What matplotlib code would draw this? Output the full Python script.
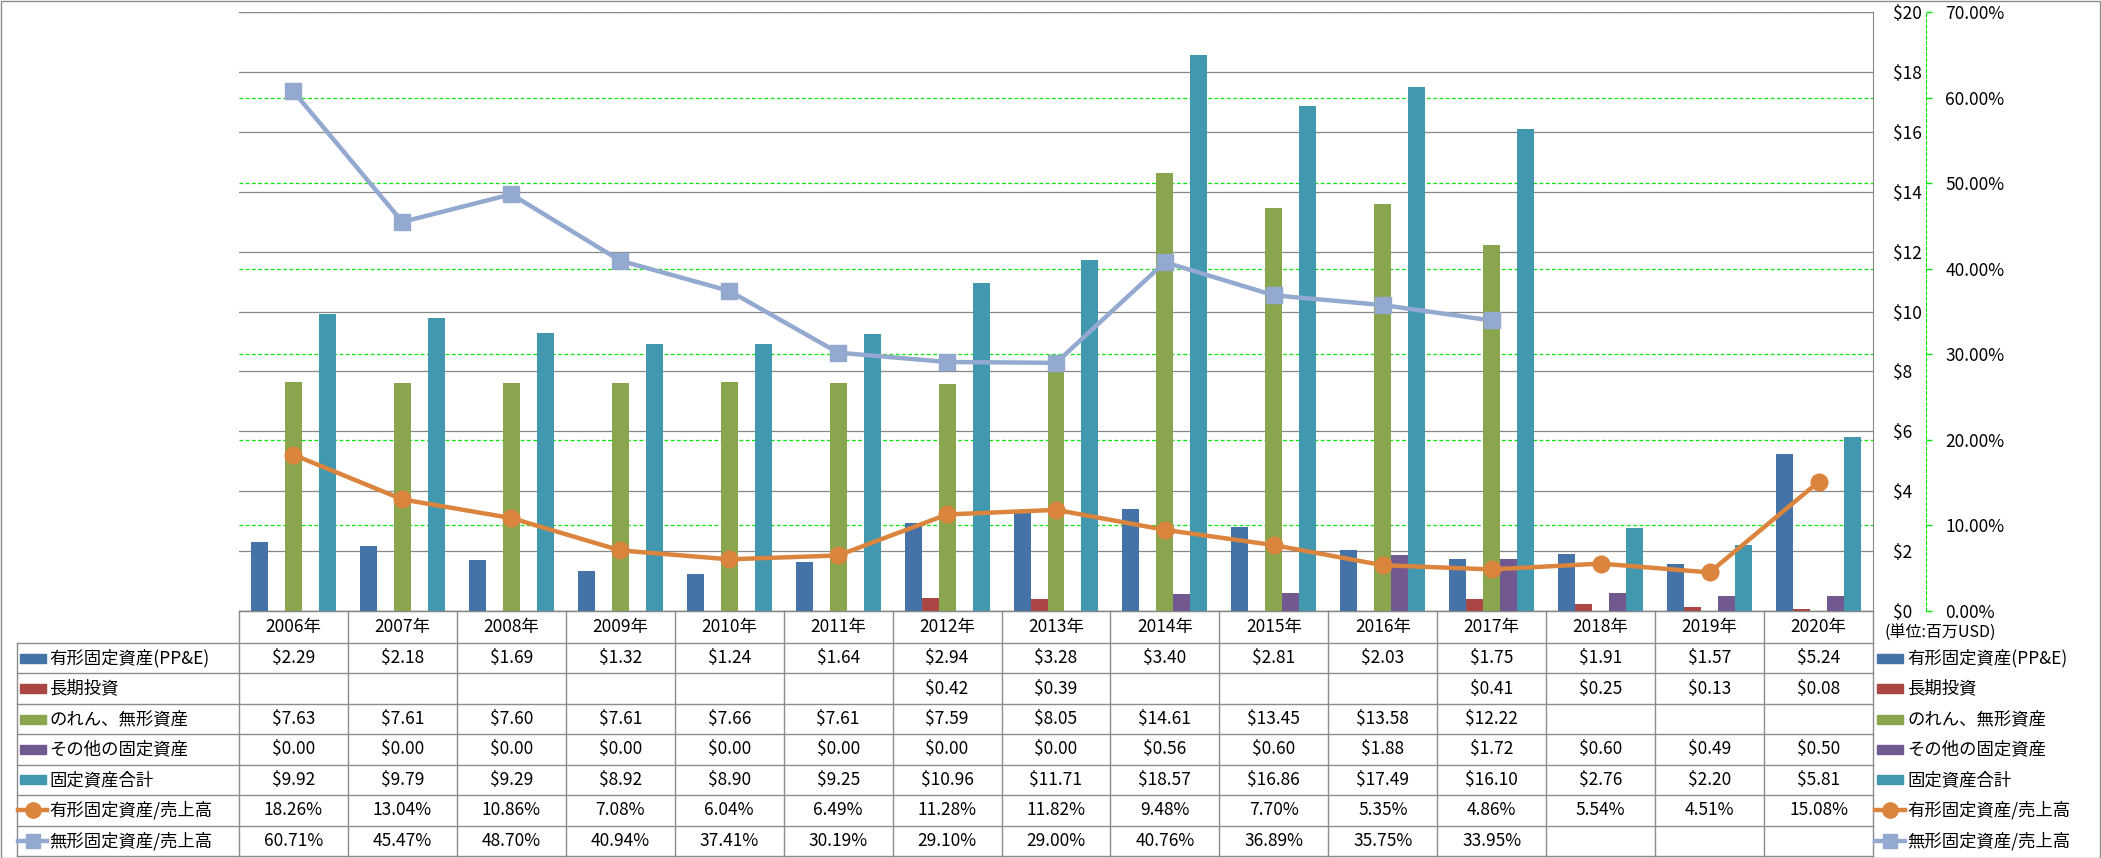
import numpy as np
import matplotlib
matplotlib.use("Agg")
import matplotlib.pyplot as plt
from matplotlib.lines import Line2D
from matplotlib.patches import Rectangle
from matplotlib.transforms import blended_transform_factory

plt.rcParams['font.family'] = ['Noto Sans CJK JP', 'DejaVu Sans']

nan = np.nan
years = ["2006年", "2007年", "2008年", "2009年", "2010年", "2011年", "2012年", "2013年",
         "2014年", "2015年", "2016年", "2017年", "2018年", "2019年", "2020年"]
ppe = [2.29, 2.18, 1.69, 1.32, 1.24, 1.64, 2.94, 3.28, 3.40, 2.81, 2.03, 1.75, 1.91, 1.57, 5.24]
lt_invest = [nan, nan, nan, nan, nan, nan, 0.42, 0.39, nan, nan, nan, 0.41, 0.25, 0.13, 0.08]
goodwill = [7.63, 7.61, 7.60, 7.61, 7.66, 7.61, 7.59, 8.05, 14.61, 13.45, 13.58, 12.22, nan, nan, nan]
other = [0.00, 0.00, 0.00, 0.00, 0.00, 0.00, 0.00, 0.00, 0.56, 0.60, 1.88, 1.72, 0.60, 0.49, 0.50]
total = [9.92, 9.79, 9.29, 8.92, 8.90, 9.25, 10.96, 11.71, 18.57, 16.86, 17.49, 16.10, 2.76, 2.20, 5.81]
ppe_ratio = [18.26, 13.04, 10.86, 7.08, 6.04, 6.49, 11.28, 11.82, 9.48, 7.70, 5.35, 4.86, 5.54, 4.51, 15.08]
intang_ratio = [60.71, 45.47, 48.70, 40.94, 37.41, 30.19, 29.10, 29.00, 40.76, 36.89, 35.75, 33.95, nan, nan, nan]

bar_names = ["有形固定資産(PP&E)", "長期投資", "のれん、無形資産", "その他の固定資産", "固定資産合計"]
line_names = ["有形固定資産/売上高", "無形固定資産/売上高"]
bar_colors = ["#4572A7", "#AA4643", "#89A54E", "#71588F", "#4198AF"]
line_colors = ["#DB843D", "#93A9CF"]
line_markers = ["o", "s"]
unit_label = "(単位:百万USD)"

W, H = 2101, 858
fig = plt.figure(figsize=(W / 100, H / 100), dpi=100)
fig.patch.set_facecolor("white")

L, R, T, B = 239, 1873, 12, 611
rect = [L / W, 1 - B / H, (R - L) / W, (B - T) / H]

ax2 = fig.add_axes(rect)  # percent axis + green grid (bottom layer)
ax = fig.add_axes(rect, sharex=ax2)  # bars, $ axis
ax3 = fig.add_axes(rect, sharex=ax2)  # lines (top layer)
ax2.set_zorder(1)
ax.set_zorder(2)
ax3.set_zorder(3)
ax.patch.set_visible(False)
ax3.patch.set_visible(False)

GREY = "#878787"
GREEN = "#00E600"
x = np.arange(len(years))
ax.set_xlim(-0.5, len(years) - 0.5)

# bars
series = [ppe, lt_invest, goodwill, other, total]
w = 0.156
for k, (vals, c) in enumerate(zip(series, bar_colors)):
    ax.bar(x + (k - 2) * w, np.array(vals, dtype=float), width=w, color=c, zorder=2)

ax.set_ylim(0, 20)
ax.set_yticks(np.arange(0, 21, 2))
ax.yaxis.tick_right()
ax.set_yticklabels([f"${v}" for v in range(0, 21, 2)])
ax.tick_params(axis='y', length=0, pad=14.4, labelsize=12.5)
ax.set_xticks([])
ax.set_axisbelow(True)
ax.grid(axis='y', color=GREY, lw=0.9, ls='-')
for s in ["left", "top"]:
    ax.spines[s].set_visible(False)
ax.spines["right"].set_color(GREY)
ax.spines["bottom"].set_color(GREY)

# percent axis
ax2.set_ylim(0, 0.7)
ax2.set_yticks(np.arange(0, 0.71, 0.1))
ax2.yaxis.tick_right()
ax2.set_yticklabels([f"{v:.2f}%" for v in np.arange(0, 71, 10)])
ax2.tick_params(axis='y', length=4, width=1, color=GREEN, direction='out', pad=10, labelsize=12.5)
ax2.grid(axis='y', color=GREEN, lw=0.9, ls=(0, (3, 2)))
for s in ["left", "top", "bottom"]:
    ax2.spines[s].set_visible(False)
ax2.spines["right"].set_position(("outward", 38))
ax2.spines["right"].set_color(GREEN)
ax2.spines["right"].set_linestyle((0, (3, 2)))
ax2.tick_params(axis='x', length=0, labelbottom=False)

# lines
ax3.set_ylim(0, 0.7)
ax3.axis('off')
for vals, c, m in zip([ppe_ratio, intang_ratio], line_colors, line_markers):
    ax3.plot(x, np.array(vals, dtype=float) / 100, color=c, lw=3.2, marker=m,
             markersize=12 if m == 'o' else 11, markerfacecolor=c, markeredgecolor=c,
             solid_capstyle='round', clip_on=False)

# ---------------- table ----------------
def fy(py):
    return 1 - py / H

def fx(px):
    return px / W

trans_col = blended_transform_factory(ax.transData, fig.transFigure)
row_top = 643
row_h = (856 - 643) / 7
rows_y = [row_top + i * row_h for i in range(8)]
hdr_c = (B + row_top) / 2
tcol = "#8C8C8C"

# horizontal lines
fig.add_artist(Line2D([fx(L), fx(R)], [fy(B), fy(B)], color=tcol, lw=1))
for yy in rows_y:
    fig.add_artist(Line2D([fx(17), fx(R)], [fy(yy), fy(yy)], color=tcol, lw=1))
# vertical lines
fig.add_artist(Line2D([fx(17), fx(17)], [fy(row_top), fy(rows_y[-1])], color=tcol, lw=1))
for i in range(len(years) + 1):
    fig.add_artist(Line2D([i - 0.5, i - 0.5], [fy(B), fy(rows_y[-1])], color=tcol, lw=1,
                          transform=trans_col))

# header
for i, yl in enumerate(years):
    fig.text(i, fy(hdr_c), yl, transform=trans_col, ha='center', va='center', fontsize=12.5)

all_rows = series + [ppe_ratio, intang_ratio]
all_names = bar_names + line_names
for r, vals in enumerate(all_rows):
    yc = (rows_y[r] + rows_y[r + 1]) / 2
    for i, v in enumerate(vals):
        if v is None or (isinstance(v, float) and np.isnan(v)):
            continue
        s = f"${v:.2f}" if r < 5 else f"{v:.2f}%"
        fig.text(i, fy(yc), s, transform=trans_col, ha='center', va='center', fontsize=12.5)

# legend keys (left in table and right of table)
def draw_key(x0, x1, yc, r):
    if r < 5:
        fig.add_artist(Rectangle((fx(x0), fy(yc + 4.5)), fx(x1) - fx(x0), 9 / H,
                                 transform=fig.transFigure, color=bar_colors[r]))
    else:
        c = line_colors[r - 5]
        m = line_markers[r - 5]
        fig.add_artist(Line2D([fx(x0), fx(x1)], [fy(yc), fy(yc)], color=c, lw=3.2,
                              transform=fig.transFigure))
        fig.add_artist(Line2D([fx((x0 + x1) / 2)], [fy(yc)], color=c, marker=m,
                              markersize=11 if m == 'o' else 10, transform=fig.transFigure))

for r, name in enumerate(all_names):
    yc = (rows_y[r] + rows_y[r + 1]) / 2
    if r < 5:
        draw_key(20, 46, yc, r)
        draw_key(1877, 1903, yc, r)
    else:
        draw_key(18, 47, yc, r)
        draw_key(1875, 1905, yc, r)
    fig.text(fx(49), fy(yc), name, ha='left', va='center', fontsize=12.5)
    fig.text(fx(1907), fy(yc), name, ha='left', va='center', fontsize=12.5)

fig.text(fx(1885), fy(633), unit_label, ha='left', va='center', fontsize=11.5)

# figure border
fig.add_artist(Rectangle((0.5 / W, 0.5 / H), 1 - 1.5 / W, 1 - 1.5 / H, transform=fig.transFigure,
                         fill=False, edgecolor="#8C8C8C", lw=1))

fig.savefig("out.png", dpi=100)
